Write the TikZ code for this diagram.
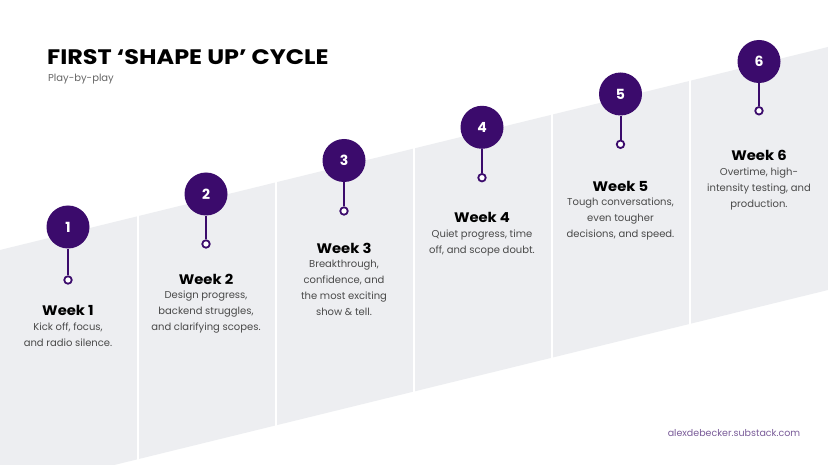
\documentclass[tikz,border=0pt]{standalone}
\usepackage{fontspec}
\setmainfont{Poppins}
\newfontfamily\titlefont{Poppins}[FakeStretch=1.14]
\newfontfamily\headfont{Poppins}[FakeStretch=1.07]
\definecolor{purp}{HTML}{3B0B6C}
\definecolor{bandgray}{HTML}{EDEEF1}
\definecolor{desc}{HTML}{4A4A4A}
\definecolor{urlc}{HTML}{7A5C99}
\definecolor{subg}{HTML}{666666}
\tikzset{
  numcirc/.style={circle, fill=purp, minimum size=43pt, inner sep=0pt, text=white, font=\fontsize{14}{14}\selectfont\bfseries},
  pindot/.style={circle, draw=purp, fill=white, line width=1.8pt, minimum size=7.5pt, inner sep=0pt},
  stem/.style={draw=purp, line width=2pt},
  weekhead/.style={font=\headfont\fontsize{13.8}{14}\selectfont\bfseries, text=black, inner sep=0pt},
  weekdesc/.style={font=\fontsize{10}{16}\selectfont, text=desc, align=center, inner sep=0pt, anchor=north},
  gapline/.style={draw=white, line width=2.5pt},
}
\begin{document}
\begin{tikzpicture}[x=1pt,y=-1pt]
\useasboundingbox (0,0) rectangle (828,465);
\fill[white] (0,0) rectangle (828,465);
\begin{scope}
\clip (0,0) rectangle (828,465);
\fill[bandgray] (0,250) -- (828,47) -- (828,290) -- (0,493) -- cycle;
\foreach \gx in {138,276,414,552,690}{
  \draw[gapline] ({\gx},{250-0.245*\gx-1}) -- ({\gx},{493-0.245*\gx+1});
}
\end{scope}

% title
\node[anchor=base west, inner sep=0pt, font=\titlefont\fontsize{21}{21}\selectfont\bfseries] (title) at (47,64.5) {FIRST ‘SHAPE UP’ CYCLE};
\node[anchor=base west, inner sep=0pt, font=\fontsize{10}{10}\selectfont, text=subg] (sub) at (48,81.5) {Play-by-play};

% markers
\node[numcirc] (c1) at (68,227) {1};
\node[numcirc] (c2) at (206,194) {2};
\node[numcirc] (c3) at (344,160.5) {3};
\node[numcirc] (c4) at (482,127.3) {4};
\node[numcirc] (c5) at (620.5,94) {5};
\node[numcirc] (c6) at (759,61.5) {6};
\node[pindot] (d1) at (68,280) {};
\node[pindot] (d2) at (206,244) {};
\node[pindot] (d3) at (344,211) {};
\node[pindot] (d4) at (482,177.7) {};
\node[pindot] (d5) at (620.5,144.3) {};
\node[pindot] (d6) at (759,110.8) {};
\foreach \i in {1,...,6}{ \draw[stem] (c\i.south) -- (d\i.north); }

% weeks
\node[weekhead] (h1) at (68,310.5) {Week 1};
\node[weekhead] (h2) at (206,279) {Week 2};
\node[weekhead] (h3) at (344,248) {Week 3};
\node[weekhead] (h4) at (482,217.5) {Week 4};
\node[weekhead] (h5) at (620.5,186) {Week 5};
\node[weekhead] (h6) at (759,155.5) {Week 6};

\node[weekdesc] (t1) at ([yshift=-12pt]h1.center) {Kick off, focus,\\and radio silence.};
\node[weekdesc] (t2) at ([yshift=-12pt]h2.center) {Design progress,\\backend struggles,\\and clarifying scopes.};
\node[weekdesc] (t3) at ([yshift=-12pt]h3.center) {Breakthrough,\\confidence, and\\the most exciting\\show \& tell.};
\node[weekdesc] (t4) at ([yshift=-12pt]h4.center) {Quiet progress, time\\off, and scope doubt.};
\node[weekdesc] (t5) at ([yshift=-12pt]h5.center) {Tough conversations,\\even tougher\\decisions, and speed.};
\node[weekdesc] (t6) at ([yshift=-12pt]h6.center) {Overtime, high-\\intensity testing, and\\production.};

\node[inner sep=0pt, font=\fontsize{9.5}{10}\selectfont, text=urlc] (url) at (734,433) {alexdebecker.substack.com};
\end{tikzpicture}
\end{document}
